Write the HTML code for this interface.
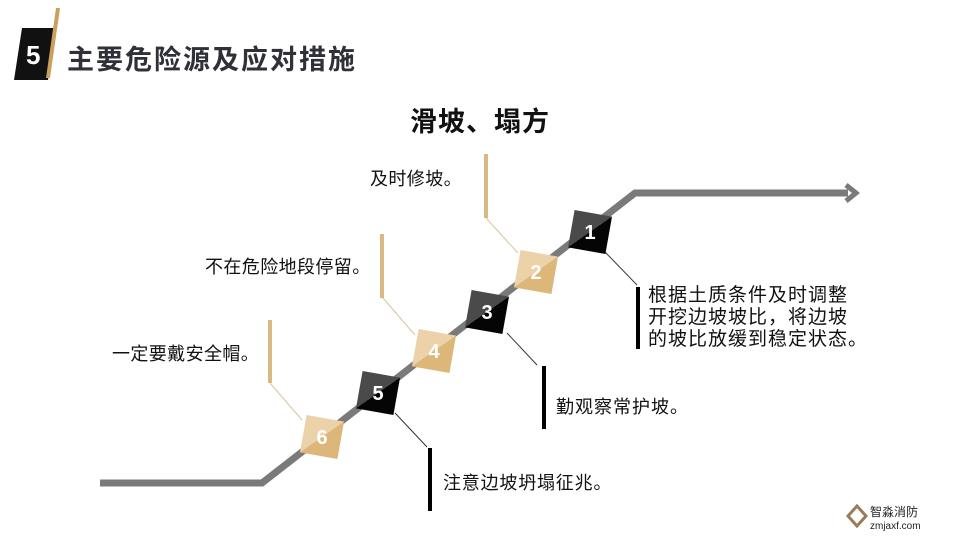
<!DOCTYPE html>
<html><head><meta charset="utf-8"><style>
html,body{margin:0;padding:0;background:#fff;}
svg{display:block;}
text{font-family:"Liberation Sans","Noto Sans CJK SC",sans-serif;}
</style></head><body>
<svg width="960" height="540" viewBox="0 0 960 540" xmlns="http://www.w3.org/2000/svg">
<defs>
<linearGradient id="gd" x1="0" y1="0" x2="1" y2="1"><stop offset="0.5" stop-color="#4a4a4a"/><stop offset="0.5" stop-color="#050505"/></linearGradient>
<linearGradient id="gg" x1="0" y1="0" x2="1" y2="1"><stop offset="0.5" stop-color="#ecd2a8"/><stop offset="0.5" stop-color="#ddb679"/></linearGradient>
</defs>
<!-- header -->
<polygon points="22,28 56,28 48,80 14,80" fill="#111"/>
<polygon points="56,8 60,8 50,78 46,78" fill="#c9a15a"/>
<text x="26" y="64" font-size="26" font-weight="bold" fill="#fff">5</text>
<text x="67" y="69" font-size="27" font-weight="bold" fill="#2f3038" letter-spacing="2">主要危险源及应对措施</text>
<text x="480" y="131" font-size="27" font-weight="bold" fill="#111" text-anchor="middle" letter-spacing="1">滑坡、塌方</text>
<!-- path -->
<polyline points="100,483 262,483 635,193 848,193" fill="none" stroke="#7a7a7a" stroke-width="7"/>
<polyline points="846,185 856,193 846,201" fill="none" stroke="#7a7a7a" stroke-width="5"/>
<!-- leaders -->
<g stroke-width="1">
<line x1="302" y1="420" x2="270" y2="383" stroke="#d8c5a0"/>
<line x1="415" y1="335" x2="383" y2="298" stroke="#d8c5a0"/>
<line x1="518" y1="253" x2="486" y2="218" stroke="#d8c5a0"/>
<line x1="605" y1="252" x2="637" y2="285" stroke="#333"/>
<line x1="507" y1="333" x2="537" y2="365" stroke="#333"/>
<line x1="395" y1="413" x2="427" y2="447" stroke="#333"/>
</g>
<rect x="268" y="320" width="4" height="63" fill="#d8b883"/>
<rect x="380" y="234" width="4" height="64" fill="#d8b883"/>
<rect x="484" y="154" width="4" height="64" fill="#d8b883"/>
<rect x="636" y="287" width="4" height="62" fill="#000"/>
<rect x="542" y="366" width="4" height="63" fill="#000"/>
<rect x="428" y="448" width="4" height="63" fill="#000"/>
<!-- squares -->
<g font-size="20" font-weight="bold" text-anchor="middle">
<g transform="translate(590,232) rotate(10)"><rect x="-19" y="-19" width="38" height="38" fill="url(#gd)"/><text x="0" y="7" fill="#fff" transform="rotate(-10)">1</text></g>
<g transform="translate(536,272) rotate(10)"><rect x="-19" y="-19" width="38" height="38" fill="url(#gg)"/><text x="0" y="7" fill="#fff" transform="rotate(-10)">2</text></g>
<g transform="translate(487,312) rotate(10)"><rect x="-19" y="-19" width="38" height="38" fill="url(#gd)"/><text x="0" y="7" fill="#fff" transform="rotate(-10)">3</text></g>
<g transform="translate(434,351) rotate(10)"><rect x="-19" y="-19" width="38" height="38" fill="url(#gg)"/><text x="0" y="7" fill="#fff" transform="rotate(-10)">4</text></g>
<g transform="translate(378,393) rotate(10)"><rect x="-19" y="-19" width="38" height="38" fill="url(#gd)"/><text x="0" y="7" fill="#fff" transform="rotate(-10)">5</text></g>
<g transform="translate(322,437) rotate(10)"><rect x="-19" y="-19" width="38" height="38" fill="url(#gg)"/><text x="0" y="7" fill="#fff" transform="rotate(-10)">6</text></g>
</g>
<!-- labels -->
<g font-size="18" fill="#111" letter-spacing="0.4">
<text x="112" y="360">一定要戴安全帽。</text>
<text x="205" y="273">不在危险地段停留。</text>
<text x="370" y="185">及时修坡。</text>
<text x="556" y="413" letter-spacing="1">勤观察常护坡。</text>
<text x="443" y="489" letter-spacing="0.8">注意边坡坍塌征兆。</text>
</g>
<g font-size="19" fill="#111" letter-spacing="1">
<text x="648" y="301">根据土质条件及时调整</text>
<text x="648" y="323">开挖边坡坡比，将边坡</text>
<text x="648" y="345">的坡比放缓到稳定状态。</text>
</g>
<!-- logo -->
<polygon points="857,506 866,516 857,526 848,516" fill="none" stroke="#9c7c56" stroke-width="3"/>
<text x="870" y="516" font-size="12" fill="#222">智淼消防</text>
<text x="870" y="529" font-size="10" fill="#222" font-family="Liberation Mono,monospace">zmjaxf.com</text>
</svg>
</body></html>
